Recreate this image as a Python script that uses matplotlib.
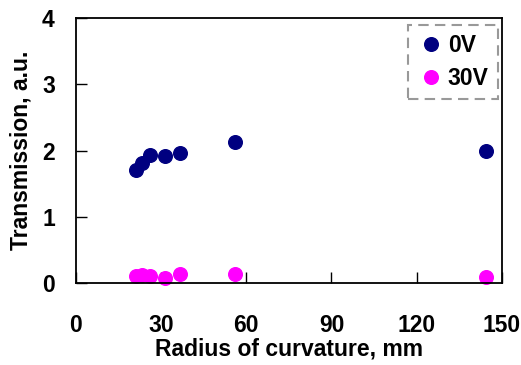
import matplotlib
matplotlib.use("Agg")
import matplotlib.pyplot as plt

radius = [21.1, 23.2, 26.3, 31.3, 36.8, 56.0, 144.4]
trans_0v = [1.71, 1.81, 1.94, 1.92, 1.97, 2.13, 1.99]
trans_30v = [0.12, 0.13, 0.11, 0.08, 0.15, 0.14, 0.10]
xticks = [0, 30, 60, 90, 120, 150]
yticks = [0, 1, 2, 3, 4]

plt.rcParams['font.family'] = ['Liberation Sans', 'DejaVu Sans']
plt.rcParams['font.weight'] = 'bold'

FS = 16.5

fig = plt.figure(figsize=(5.21, 3.65), dpi=100)
ax = fig.add_axes([0.1453, 0.2233, 0.8182, 0.7274])

ax.plot(radius, trans_0v, 'o', color='#000080', markersize=9.8, label='0V', clip_on=False)
ax.plot(radius, trans_30v, 'o', color='#FF00FF', markersize=9.8, label='30V', clip_on=False)

ax.set_xlim(0, 150)
ax.set_ylim(0, 4)
ax.set_xticks(xticks)
ax.set_yticks(yticks)
ax.tick_params(axis='x', direction='in', length=8, width=1, labelsize=FS, pad=22)
ax.tick_params(axis='y', direction='in', length=8, width=1, labelsize=FS, pad=15)
for lab in ax.get_xticklabels() + ax.get_yticklabels():
    lab.set_fontweight('bold')
for s in ax.spines.values():
    s.set_linewidth(1.3)

ax.set_xlabel('Radius of curvature, mm', fontsize=FS, fontweight='bold', labelpad=0)
ax.set_ylabel('Transmission, a.u.', fontsize=FS, fontweight='bold', labelpad=7)

leg = ax.legend(loc='upper right', bbox_to_anchor=(0.9905, 0.975), frameon=True,
                fancybox=False, prop={'size': FS, 'weight': 'bold'},
                handletextpad=0.15, handlelength=1.2, borderpad=0.4,
                labelspacing=0.45, borderaxespad=0)
frame = leg.get_frame()
frame.set_edgecolor('#808080')
frame.set_linestyle((0, (5, 3)))
frame.set_linewidth(1.5)

fig.savefig('out.png', dpi=100)
